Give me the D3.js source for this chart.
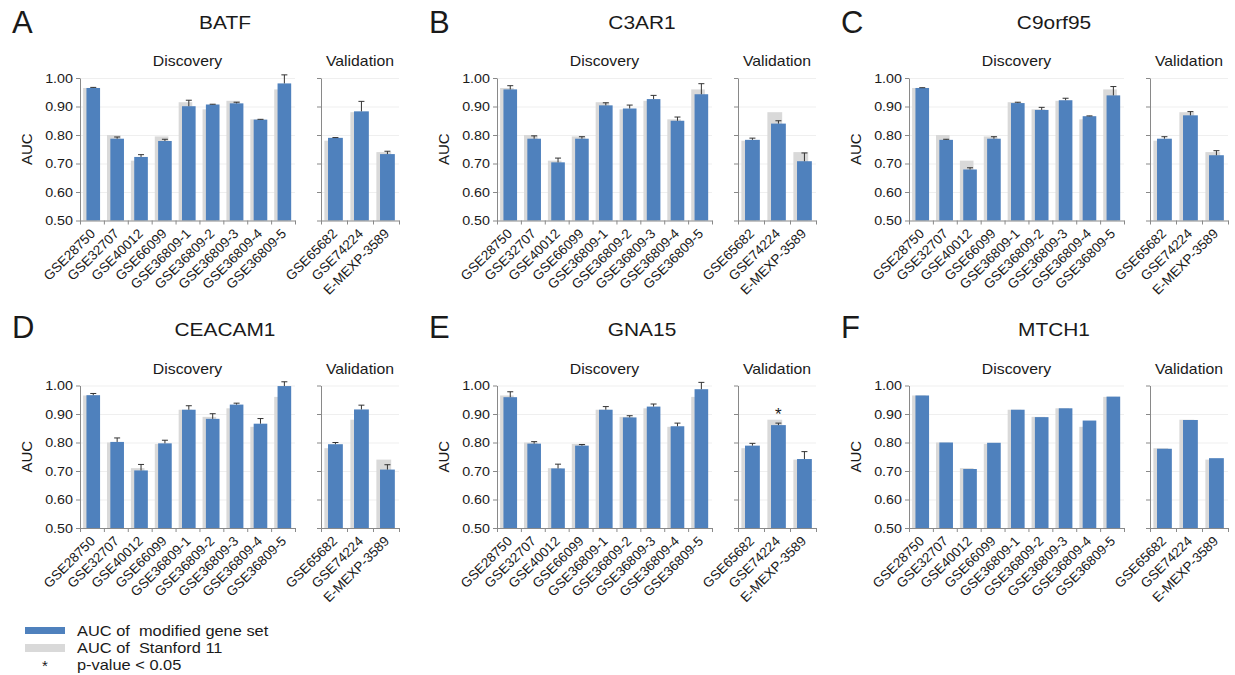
<!DOCTYPE html>
<html>
<head>
<meta charset="utf-8">
<script src="https://cdn.jsdelivr.net/npm/d3@7"></script>
<style>
  body { margin: 0; background: #fff; }
  svg text { font-family: Arial, 'Liberation Sans', sans-serif; fill: #1a1a1a; }
</style>
</head>
<body>
<div id="viz"></div>
<script>
// Categorías (conjuntos de datos)
let discovery = ['GSE28750', 'GSE32707', 'GSE40012', 'GSE66099', 'GSE36809-1', 'GSE36809-2', 'GSE36809-3', 'GSE36809-4', 'GSE36809-5'];
let validation = ['GSE65682', 'GSE74224', 'E-MEXP-3589'];
let genes = ['BATF', 'C3AR1', 'C9orf95', 'CEACAM1', 'GNA15', 'MTCH1'];
let letters = ['A', 'B', 'C', 'D', 'E', 'F'];
let yTicks = [0.50, 0.60, 0.70, 0.80, 0.90, 1.00];

// AUC de Stanford 11 (igual en todos los paneles): discovery + validation
let stanford = [0.965, 0.80, 0.71, 0.795, 0.915, 0.89, 0.92, 0.855, 0.96, 0.78, 0.88, 0.74];

// AUC del conjunto modificado y su error (discovery + validation)
let batfAuc = [0.965, 0.787, 0.723, 0.779, 0.901, 0.907, 0.911, 0.854, 0.981, 0.790, 0.883, 0.733];
let batfErr = [0.002, 0.006, 0.008, 0.006, 0.021, 0.001, 0.004, 0.001, 0.030, 0.001, 0.035, 0.010];
let c3ar1Auc = [0.960, 0.787, 0.704, 0.787, 0.904, 0.893, 0.926, 0.850, 0.943, 0.783, 0.840, 0.708];
let c3ar1Err = [0.013, 0.010, 0.015, 0.007, 0.009, 0.012, 0.013, 0.013, 0.037, 0.006, 0.010, 0.029];
let c9orf95Auc = [0.965, 0.783, 0.679, 0.787, 0.912, 0.888, 0.922, 0.866, 0.939, 0.787, 0.869, 0.729];
let c9orf95Err = [0.001, 0.002, 0.006, 0.007, 0.003, 0.009, 0.007, 0.001, 0.031, 0.007, 0.013, 0.016];
let ceacam1Auc = [0.966, 0.802, 0.702, 0.797, 0.915, 0.883, 0.933, 0.866, 0.998, 0.794, 0.916, 0.705];
let ceacam1Err = [0.006, 0.014, 0.021, 0.011, 0.014, 0.018, 0.005, 0.018, 0.015, 0.006, 0.015, 0.017];
let gna15Auc = [0.959, 0.796, 0.709, 0.789, 0.915, 0.888, 0.926, 0.857, 0.987, 0.789, 0.861, 0.742];
let gna15Err = [0.019, 0.007, 0.015, 0.004, 0.011, 0.006, 0.009, 0.011, 0.024, 0.008, 0.007, 0.026];
let mtch1Auc = [0.965, 0.800, 0.707, 0.799, 0.915, 0.889, 0.920, 0.877, 0.961, 0.778, 0.879, 0.745];
let mtch1Err = null;

// p-value < 0.05
let starGene = 'GNA15';
let starCategory = 'GSE74224';

let aucs = [batfAuc, c3ar1Auc, c9orf95Auc, ceacam1Auc, gna15Auc, mtch1Auc];
let errs = [batfErr, c3ar1Err, c9orf95Err, ceacam1Err, gna15Err, mtch1Err];

// Dimensiones
let w = 1235;
let h = 675;
let colX = [80, 497, 909];
let rowTop = [78, 385.5];
let rowBottom = [220.5, 528];
let discW = 215;
let valGap = 241;
let valW = 78;
let sx = 1.13; // el texto de la figura original está algo ensanchado

let blue = '#4f81bd';
let gray = '#d9d9d9';
let axisColor = '#898989';

let svg = d3.select('#viz')
    .append('svg')
        .attr('width', w)
        .attr('height', h);

// Texto horizontal ensanchado
function texto(g, x, y, str, size, anchor) {
    return g.append('text')
        .attr('transform', `translate(${x},${y}) scale(${sx},1)`)
        .attr('text-anchor', anchor || 'start')
        .style('font-size', size + 'px')
        .style('white-space', 'pre')
        .text(str);
}

genes.forEach(function(gene, i) {
    let col = i % 3;
    let row = Math.floor(i / 3);
    let x0 = colX[col];
    let top = rowTop[row];
    let bottom = rowBottom[row];

    let y = d3.scaleLinear()
        .domain([0.5, 1.0])
        .range([bottom, top]);

    let g = svg.append('g');

    // Letra del panel y nombre del gen
    g.append('text')
        .attr('x', x0 - 68)
        .attr('y', row == 0 ? 33 : 338)
        .style('font-size', '31px')
        .text(letters[i]);
    texto(g, x0 + 145, top - 49.5, gene, 18.5, 'middle');

    // Etiqueta eje Y
    g.append('text')
        .attr('transform', `translate(${x0 - 48},${(top + bottom) / 2}) rotate(-90)`)
        .attr('text-anchor', 'middle')
        .style('font-size', '15px')
        .text('AUC');

    let disc = {cats: discovery, from: 0, x0: x0, width: discW, title: 'Discovery', labels: true};
    let val = {cats: validation, from: 9, x0: x0 + valGap, width: valW, title: 'Validation', labels: false};

    [disc, val].forEach(function(grp) {
        let n = grp.cats.length;
        let x = d3.scaleBand()
            .domain(grp.cats)
            .range([grp.x0, grp.x0 + grp.width]);
        let bw = x.bandwidth();

        let datos = grp.cats.map(function(c, j) {
            return {
                cat: c,
                auc: aucs[i][grp.from + j],
                err: errs[i] ? errs[i][grp.from + j] : null,
                ref: stanford[grp.from + j]
            };
        });

        // Título del grupo
        texto(g, grp.x0 + grp.width / 2, top - 12, grp.title, 14, 'middle');

        // Líneas de grilla
        g.append('g')
            .attr('transform', `translate(${grp.x0},0)`)
            .call(d3.axisLeft(y).tickValues(yTicks.slice(1)).tickSize(-grp.width).tickFormat(''))
            .call(a => a.select('.domain').remove())
            .selectAll('line')
                .attr('stroke', '#efefef');

        // Barras Stanford 11
        g.selectAll(null)
            .data(datos)
            .enter()
            .append('rect')
                .attr('x', d => x(d.cat) + bw * 0.13)
                .attr('width', bw * 0.57)
                .attr('y', d => y(d.ref))
                .attr('height', d => y(0.5) - y(d.ref))
                .attr('fill', gray);

        // Barras conjunto modificado
        g.selectAll(null)
            .data(datos)
            .enter()
            .append('rect')
                .attr('x', d => x(d.cat) + bw * 0.27)
                .attr('width', bw * 0.57)
                .attr('y', d => y(d.auc))
                .attr('height', d => y(0.5) - y(d.auc))
                .attr('fill', blue);

        // Barras de error (solo positivo)
        let conErr = datos.filter(d => d.err != null);
        let cx = d => x(d.cat) + bw * (0.27 + 0.285);
        g.selectAll(null)
            .data(conErr)
            .enter()
            .append('path')
                .attr('d', d => `M${cx(d)},${y(d.auc)}V${y(d.auc + d.err)}M${cx(d) - 3},${y(d.auc + d.err)}H${cx(d) + 3}`)
                .attr('stroke', '#333')
                .attr('stroke-width', 1)
                .attr('fill', 'none');

        // Asterisco de significancia
        if (gene == starGene) {
            g.selectAll(null)
                .data(datos.filter(d => d.cat == starCategory))
                .enter()
                .append('text')
                    .attr('x', cx)
                    .attr('y', d => y(d.auc + d.err) - 3)
                    .attr('text-anchor', 'middle')
                    .style('font-size', '17px')
                    .text('*');
        }

        // Eje Y
        let ejeY = g.append('g')
            .attr('transform', `translate(${grp.x0},0)`)
            .call(d3.axisLeft(y)
                .tickValues(yTicks)
                .tickSize(4)
                .tickSizeOuter(0)
                .tickFormat(grp.labels ? d3.format('.2f') : ''));
        ejeY.selectAll('path, line').attr('stroke', axisColor);
        ejeY.selectAll('text')
            .attr('x', -7 / 1.1)
            .attr('transform', 'scale(1.1,1)')
            .style('font-size', '13px')
            .style('font-family', null)
            .attr('fill', '#1a1a1a');

        // Eje X: marcas en los bordes de cada categoría
        let xBordes = d3.scaleLinear().domain([0, n]).range([grp.x0, grp.x0 + grp.width]);
        let ejeX = g.append('g')
            .attr('transform', `translate(0,${bottom})`)
            .call(d3.axisBottom(xBordes).tickValues(d3.range(n + 1)).tickSize(4).tickSizeOuter(0).tickFormat(''));
        ejeX.selectAll('path, line').attr('stroke', axisColor);

        // Etiquetas de categorías rotadas
        let etiquetas = g.append('g')
            .attr('transform', `translate(0,${bottom})`)
            .call(d3.axisBottom(x).tickSize(0).tickSizeOuter(0));
        etiquetas.select('.domain').remove();
        etiquetas.selectAll('text')
            .attr('x', 0)
            .attr('y', 0)
            .attr('dy', 0)
            .attr('transform', 'translate(4,14) rotate(-45)')
            .attr('text-anchor', 'end')
            .style('font-size', '13.5px')
            .style('font-family', null)
            .attr('fill', '#1a1a1a');
    });
});

// Leyenda
let leyenda = svg.append('g');
leyenda.append('rect')
    .attr('x', 25).attr('y', 627).attr('width', 40).attr('height', 7)
    .attr('fill', blue);
leyenda.append('rect')
    .attr('x', 25).attr('y', 644).attr('width', 40).attr('height', 8)
    .attr('fill', gray);
leyenda.append('text')
    .attr('x', 45).attr('y', 671)
    .attr('text-anchor', 'middle')
    .style('font-size', '15px')
    .text('*');
let textosLeyenda = ['AUC of  modified gene set', 'AUC of  Stanford 11', 'p-value < 0.05'];
textosLeyenda.forEach(function(t, k) {
    texto(leyenda, 77, 636 + k * 17, t, 14.5);
});
</script>
</body>
</html>
